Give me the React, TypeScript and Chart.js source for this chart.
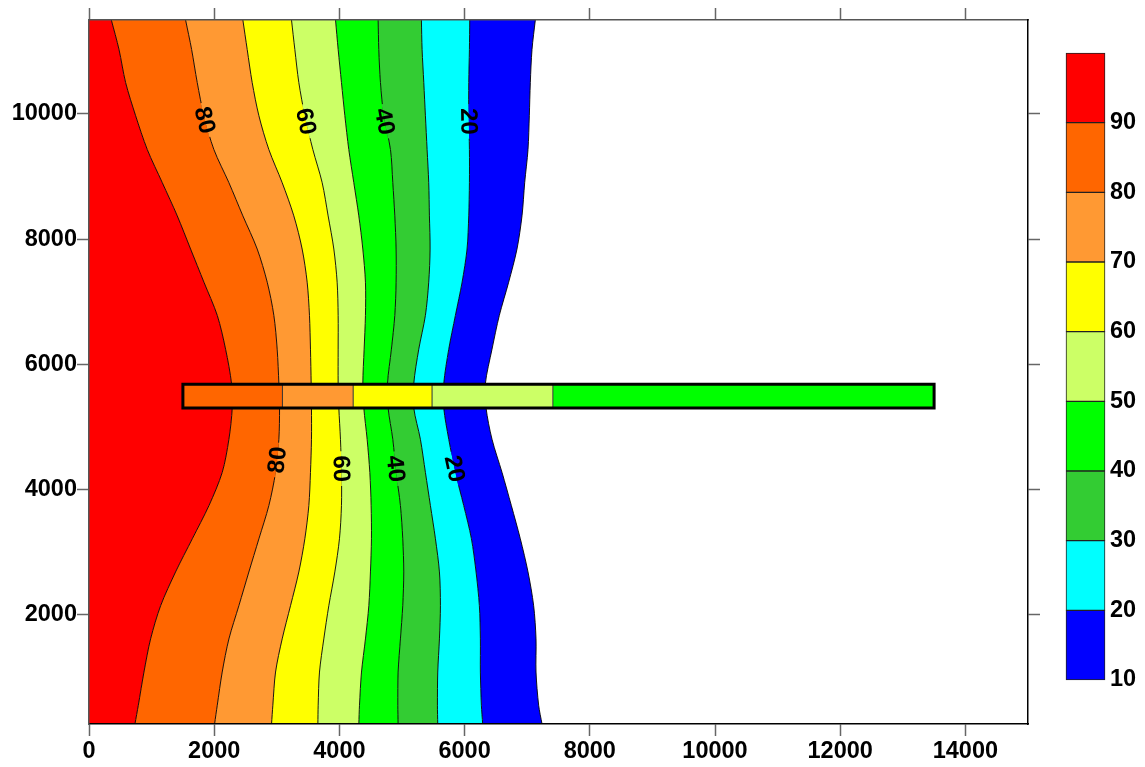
import React, { useEffect, useRef } from 'react';
import { Chart, registerables } from 'chart.js';

Chart.register(...registerables);

// ---------- data ----------
// sample depths (y) shared by every contour boundary
const Y_SAMPLES = [11500, 11030, 10500, 9970, 9430, 8900, 8370, 7840, 7310, 6780, 6240, 5690, 5300, 4800, 4270, 3740, 3210, 2680, 2140, 1610, 1080, 550, 250];

// x position of each contour level at the depths above
const B90 = [357, 479, 585, 745, 931, 1171, 1410, 1623, 1836, 2049, 2182, 2277, 2288, 2235, 2128, 1916, 1650, 1383, 1144, 984, 878, 788, 734];
const B80 = [1543, 1639, 1729, 1836, 1995, 2235, 2458, 2687, 2847, 2953, 3006, 3033, 3044, 3033, 2980, 2873, 2714, 2554, 2394, 2235, 2128, 2049, 2006];
const B70 = [2458, 2527, 2607, 2714, 2873, 3086, 3272, 3405, 3485, 3522, 3538, 3549, 3554, 3554, 3538, 3512, 3448, 3352, 3219, 3086, 2980, 2937, 2916];
const B60 = [3235, 3288, 3352, 3448, 3576, 3725, 3820, 3911, 3964, 3980, 3980, 3980, 3991, 4017, 4033, 4033, 4001, 3927, 3831, 3751, 3682, 3661, 3656];
const B50 = [3938, 3980, 4033, 4087, 4150, 4230, 4310, 4374, 4416, 4416, 4395, 4374, 4390, 4443, 4486, 4507, 4512, 4496, 4470, 4416, 4353, 4321, 4310];
const B40 = [4619, 4629, 4656, 4709, 4816, 4853, 4885, 4906, 4906, 4885, 4831, 4768, 4778, 4853, 4906, 4975, 5012, 5028, 5012, 4975, 4938, 4933, 4938];
const B30 = [5310, 5321, 5348, 5374, 5401, 5427, 5438, 5449, 5427, 5374, 5268, 5188, 5188, 5294, 5374, 5454, 5534, 5598, 5614, 5598, 5571, 5566, 5571];
const B20 = [6082, 6077, 6066, 6066, 6077, 6077, 6066, 6039, 5960, 5853, 5747, 5667, 5667, 5747, 5853, 5986, 6109, 6183, 6236, 6252, 6252, 6268, 6289];
const B10 = [7130, 7077, 7050, 7034, 7013, 6960, 6917, 6837, 6704, 6555, 6438, 6332, 6343, 6438, 6598, 6747, 6890, 7013, 7103, 7141, 7141, 7183, 7237];

const LEVELS = [90, 80, 70, 60, 50, 40, 30, 20, 10];
const BOUNDARIES = [B90, B80, B70, B60, B50, B40, B30, B20, B10];
// band colours: 90-100, 80-90, ..., 10-20
const BAND_COLORS = ['#ff0000', '#ff6600', '#ff9933', '#ffff00', '#ccff66', '#00ff00', '#33cc33', '#00ffff', '#0000ff'];

// horizontal well
const WELL_Y = [5300, 5680];
const WELL_BREAKS = [1500, 3090, 4220, 5480, 7410, 13500];
const WELL_COLORS = ['#ff6600', '#ff9933', '#ffff00', '#ccff66', '#00ff00'];

// contour labels
const LABEL_LEVELS = [80, 60, 40, 20, 80, 60, 40, 20];
const LABEL_Y = [9900, 9880, 9880, 9880, 4470, 4330, 4330, 4330];

// ticks
const X_TICKS = [0, 2000, 4000, 6000, 8000, 10000, 12000, 14000];
const Y_TICKS = [2000, 4000, 6000, 8000, 10000];
const CB_LOWER = [10, 20, 30, 40, 50, 60, 70, 80, 90];
const CB_COLORS = ['#0000ff', '#00ffff', '#33cc33', '#00ff00', '#ccff66', '#ffff00', '#ff9933', '#ff6600', '#ff0000'];
const CB_TICKS = [10, 20, 30, 40, 50, 60, 70, 80, 90];

const FONT_FAMILY = "'Liberation Sans', Arial, Helvetica, sans-serif";
const TICK_FONT = { family: FONT_FAMILY, size: 23.5, weight: 'bold' as const };

function buildDatasets() {
  const ds: any[] = [];
  const [y0, y1] = WELL_Y;
  const xa = WELL_BREAKS[0];
  const xb = WELL_BREAKS[WELL_BREAKS.length - 1];
  // outline
  ds.push({
    indexAxis: 'x',
    data: [{ x: xa, y: y0 }, { x: xb, y: y0 }, { x: xb, y: y1 }, { x: xa, y: y1 }, { x: xa, y: y0 }],
    borderColor: '#000', borderWidth: 3, borderCapStyle: 'square', borderJoinStyle: 'miter',
    fill: false, pointRadius: 0, tension: 0,
  });
  // separators
  for (let i = 1; i < WELL_BREAKS.length - 1; i++) {
    ds.push({
      indexAxis: 'x',
      data: [{ x: WELL_BREAKS[i], y: y0 }, { x: WELL_BREAKS[i], y: y1 }],
      borderColor: '#333', borderWidth: 1, fill: false, pointRadius: 0, tension: 0,
    });
  }
  // well fills
  for (let i = 0; i < WELL_COLORS.length; i++) {
    const a = WELL_BREAKS[i];
    const b = WELL_BREAKS[i + 1];
    ds.push({
      indexAxis: 'x',
      data: [{ x: a, y: y1 }, { x: b, y: y1 }],
      borderWidth: 0, borderColor: 'rgba(0,0,0,0)', fill: false, pointRadius: 0, tension: 0,
    });
    ds.push({
      indexAxis: 'x',
      data: [{ x: a, y: y0 }, { x: b, y: y0 }],
      borderWidth: 0, borderColor: 'rgba(0,0,0,0)', backgroundColor: WELL_COLORS[i],
      fill: '-1', pointRadius: 0, tension: 0,
    });
  }
  const contourStart = ds.length;
  BOUNDARIES.forEach((b, k) => {
    ds.push({
      indexAxis: 'y',
      data: Y_SAMPLES.map((y, i) => ({ x: b[i], y })),
      borderColor: '#000', borderWidth: 0.9,
      backgroundColor: BAND_COLORS[k],
      fill: k === 0 ? { value: 0 } : '-1',
      pointRadius: 0, tension: 0.3,
    });
  });
  return { ds, contourStart };
}

export default function App() {
  const mainRef = useRef<HTMLCanvasElement>(null);
  const barRef = useRef<HTMLCanvasElement>(null);

  useEffect(() => {
    const { ds, contourStart } = buildDatasets();

    const labelPlugin = {
      id: 'contourLabels',
      afterDatasetsDraw(chart: any) {
        const ctx = chart.ctx;
        const ys = chart.scales.y;
        const area = chart.chartArea;
        ctx.save();
        ctx.beginPath();
        ctx.rect(area.left, area.top, area.right - area.left, area.bottom - area.top);
        ctx.clip();
        LABEL_LEVELS.forEach((lv, i) => {
          const k = LEVELS.indexOf(lv);
          const line = chart.getDatasetMeta(contourStart + k).dataset;
          const py = ys.getPixelForValue(LABEL_Y[i]);
          const p = line.interpolate({ x: 0, y: py }, 'y');
          const pa = line.interpolate({ x: 0, y: py - 8 }, 'y');
          const pb = line.interpolate({ x: 0, y: py + 8 }, 'y');
          if (!p || !pa || !pb || Array.isArray(p)) return;
          let ang = Math.atan2(pb.y - pa.y, pb.x - pa.x);
          if (ang > Math.PI / 2) ang -= Math.PI;
          if (ang < -Math.PI / 2) ang += Math.PI;
          ctx.save();
          ctx.translate(p.x, p.y);
          ctx.rotate(ang);
          ctx.font = `bold 24px ${FONT_FAMILY}`;
          const txt = String(lv);
          const w = ctx.measureText(txt).width + 8;
          const plusYIsLeft = -Math.sin(ang) < 0;
          const leftC = BAND_COLORS[k];
          const rightC = BAND_COLORS[k + 1];
          ctx.fillStyle = plusYIsLeft ? leftC : rightC;
          ctx.fillRect(-w / 2, 0, w, 4);
          ctx.fillStyle = plusYIsLeft ? rightC : leftC;
          ctx.fillRect(-w / 2, -4, w, 4);
          ctx.fillStyle = '#000';
          ctx.textAlign = 'center';
          ctx.textBaseline = 'middle';
          ctx.fillText(txt, 0, 1);
          ctx.restore();
        });
        ctx.restore();
      },
    };

    const gridOpts = { drawOnChartArea: false, drawTicks: true, tickLength: 12, tickColor: '#666', tickWidth: 1.5 };

    const main = new Chart(mainRef.current as HTMLCanvasElement, {
      type: 'line',
      data: { datasets: ds },
      options: {
        responsive: false,
        animation: false,
        devicePixelRatio: 1,
        events: [],
        layout: { padding: { left: 0, top: 0, right: 105, bottom: 0 } },
        plugins: {
          legend: { display: false },
          tooltip: { enabled: false },
          filler: { propagate: false },
        },
        elements: { point: { radius: 0 } },
        scales: {
          x: {
            type: 'linear', position: 'bottom', min: 0, max: 15000,
            afterBuildTicks: (s: any) => { s.ticks = X_TICKS.map((v) => ({ value: v })); },
            ticks: { font: TICK_FONT, color: '#000', padding: 1, maxRotation: 0, autoSkip: false, callback: (v: any) => String(v) },
            grid: gridOpts,
            border: { display: true, color: '#000', width: 1.5, z: 1 },
            afterFit: (s: any) => { s.height = 43; },
          },
          x2: {
            type: 'linear', position: 'top', min: 0, max: 15000,
            afterBuildTicks: (s: any) => { s.ticks = X_TICKS.map((v) => ({ value: v })); },
            ticks: { display: false },
            grid: gridOpts,
            border: { display: true, color: '#555', width: 1.5, z: 1 },
            afterFit: (s: any) => { s.height = 20; },
          },
          y: {
            type: 'linear', position: 'left', min: 250, max: 11500,
            afterBuildTicks: (s: any) => { s.ticks = Y_TICKS.map((v) => ({ value: v })); },
            ticks: { font: TICK_FONT, color: '#000', padding: 0, autoSkip: false, callback: (v: any) => String(v) },
            grid: gridOpts,
            border: { display: true, color: '#555', width: 1.5, z: 1 },
            afterFit: (s: any) => { s.width = 89; },
          },
          y2: {
            type: 'linear', position: 'right', min: 250, max: 11500,
            afterBuildTicks: (s: any) => { s.ticks = Y_TICKS.map((v) => ({ value: v })); },
            ticks: { display: false },
            grid: gridOpts,
            border: { display: true, color: '#000', width: 1.5, z: 1 },
            afterFit: (s: any) => { s.width = 12; },
          },
        },
      } as any,
      plugins: [labelPlugin],
    });

    const bar = new Chart(barRef.current as HTMLCanvasElement, {
      type: 'bar',
      data: {
        labels: [''],
        datasets: CB_LOWER.map((lo, i) => ({
          data: [[lo, lo + 10]] as any,
          backgroundColor: CB_COLORS[i],
          borderColor: '#222',
          borderWidth: 1,
          borderSkipped: false,
          barPercentage: 1,
          categoryPercentage: 1,
          grouped: false,
          clip: false,
        })) as any,
      },
      options: {
        responsive: false,
        animation: false,
        devicePixelRatio: 1,
        events: [],
        layout: { padding: { left: 6, top: 53, bottom: 87, right: 0 } },
        plugins: { legend: { display: false }, tooltip: { enabled: false } },
        scales: {
          x: { display: false },
          y: {
            type: 'linear', position: 'right', min: 10, max: 100,
            afterBuildTicks: (s: any) => { s.ticks = CB_TICKS.map((v) => ({ value: v })); },
            ticks: { font: TICK_FONT, color: '#000', padding: 5, autoSkip: false, callback: (v: any) => String(v) },
            grid: { display: false, drawTicks: false },
            border: { display: false },
            afterFit: (s: any) => { s.width = 40; },
          },
        },
      } as any,
    });

    return () => {
      main.destroy();
      bar.destroy();
    };
  }, []);

  return (
    <div style={{ position: 'absolute', left: 0, top: 0, width: 1145, height: 767, background: '#fff' }}>
      <canvas ref={mainRef} width={1145} height={767} style={{ position: 'absolute', left: 0, top: 0, width: 1145, height: 767 }} />
      <canvas ref={barRef} width={85} height={767} style={{ position: 'absolute', left: 1060, top: 0, width: 85, height: 767 }} />
    </div>
  );
}
